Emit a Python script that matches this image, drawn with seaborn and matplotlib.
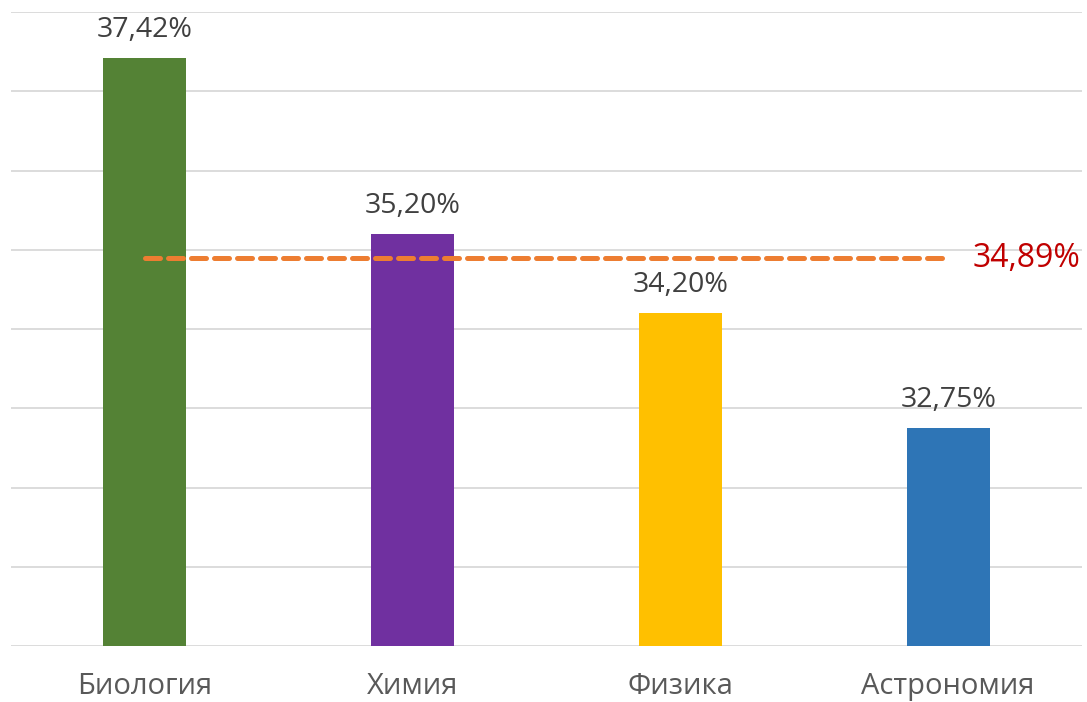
import matplotlib.pyplot as plt
import seaborn as sns
import pandas as pd

subjects = ['Биология', 'Химия', 'Физика', 'Астрономия']
values = [37.42, 35.20, 34.20, 32.75]
value_labels = ['37,42%', '35,20%', '34,20%', '32,75%']
colors = ['#548235', '#7030A0', '#FFC000', '#2E75B6']
average = 34.89
average_label = '34,89%'

sns.set_style('white')
plt.rcParams['font.family'] = ['Open Sans', 'DejaVu Sans']

df = pd.DataFrame({'subject': subjects, 'value': values})

fig = plt.figure(figsize=(10.87, 7.02), dpi=100)
ax = fig.add_axes([11 / 1087, 56 / 702, 1071 / 1087, 634 / 702])

sns.barplot(data=df, x='subject', y='value', hue='subject', palette=colors,
            saturation=1, width=0.31, linewidth=0, legend=False, ax=ax, zorder=3)

ax.set_ylim(30, 38)
ax.set_xlim(-0.5, 3.5)
ax.set_yticks(range(30, 39))
ax.yaxis.grid(True, color='#D9D9D9', linewidth=1.3, zorder=0)
ax.set_yticklabels([])
ax.tick_params(axis='y', length=0)
ax.tick_params(axis='x', length=0, pad=19, labelsize=21, labelcolor='#595959')
for s in ax.spines.values():
    s.set_visible(False)
ax.set_xlabel('')
ax.set_ylabel('')

for i, (v, lab) in enumerate(zip(values, value_labels)):
    ax.annotate(lab, (i, v), xytext=(0, 10), textcoords='offset points',
                ha='center', va='bottom', fontsize=20.5, color='#404040')

ax.plot([0, len(subjects) - 1], [average, average], color='#ED7D31',
        linewidth=3.6, dashes=(3.0, 1.6), dash_capstyle='round', zorder=4)
ax.text(len(subjects) - 1 + 0.09, average, average_label, ha='left', va='center',
        fontsize=23, color='#C00000')

plt.savefig('out.png', dpi=100)
plt.close()
